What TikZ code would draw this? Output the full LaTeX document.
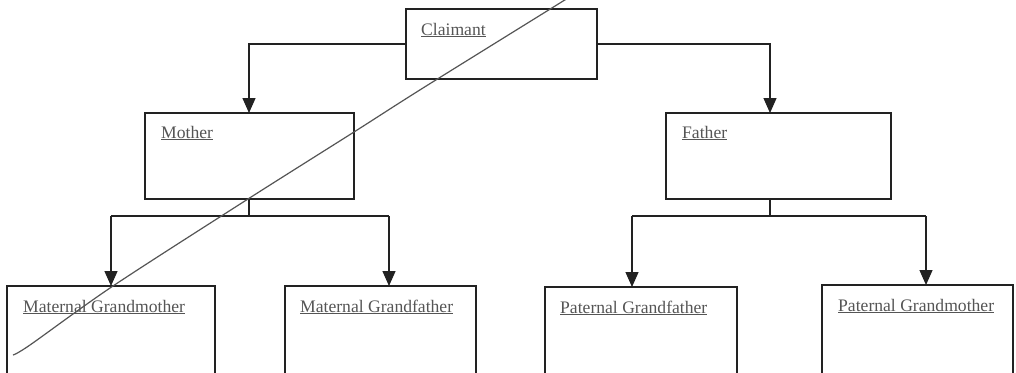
\documentclass[tikz,border=0pt]{standalone}
\usepackage{fontspec}
\setmainfont{Liberation Serif}
\usetikzlibrary{arrows.meta}
\definecolor{ink}{HTML}{222222}
\definecolor{txt}{HTML}{555555}

\begin{document}
\begin{tikzpicture}[x=1pt, y=-1pt,
  box/.style={draw=ink, line width=1.6pt, rectangle, inner sep=0pt, outer sep=0pt},
  lbl/.style={anchor=base west, inner sep=0pt, text=txt, font=\fontsize{17.6}{20}\selectfont},
  arr/.style={draw=ink, line width=1.3pt, -{Triangle[length=15pt,width=13pt]}},
  link/.style={draw=ink, line width=1.3pt}]
\useasboundingbox (0,0) rectangle (1016,372);
\clip (0,0) rectangle (1016,372);
\fill[white] (0,0) rectangle (1016,372);
% boxes
\node[box, minimum width=191pt, minimum height=70pt] (claimant) at (501.5,44) {};
\node[box, minimum width=209pt, minimum height=86pt] (mother) at (249.5,156) {};
\node[box, minimum width=225pt, minimum height=86pt] (father) at (778.5,156) {};
\node[box, minimum width=208pt, minimum height=92pt] (mgm) at (111,332) {};
\node[box, minimum width=191pt, minimum height=92pt] (mgf) at (380.5,332) {};
\node[box, minimum width=192pt, minimum height=92pt] (pgf) at (641,333) {};
\node[box, minimum width=191pt, minimum height=92pt] (pgm) at (917.5,331) {};
% labels
\node[lbl] (claimant-l) at ([shift={(15,26)}]claimant.north west) {\underline{Claimant}};
\node[lbl] (mother-l) at ([shift={(16,25)}]mother.north west) {\underline{Mother}};
\node[lbl] (father-l) at ([shift={(16,25)}]father.north west) {\underline{Father}};
\node[lbl] (mgm-l) at ([shift={(16,26)}]mgm.north west) {\underline{Maternal Grandmother}};
\node[lbl] (mgf-l) at ([shift={(15,26)}]mgf.north west) {\underline{Maternal Grandfather}};
\node[lbl] (pgf-l) at ([shift={(15,26)}]pgf.north west) {\underline{Paternal Grandfather}};
\node[lbl] (pgm-l) at ([shift={(16,26)}]pgm.north west) {\underline{Paternal Grandmother}};
% connectors
\coordinate (mj) at (249,216);
\coordinate (fj) at (770,216);
\coordinate (d1) at (111,216);
\coordinate (d2) at (389,216);
\coordinate (d3) at (632,216);
\coordinate (d4) at (926,216);
\draw[arr] (claimant.west) -| (mj |- mother.north);
\draw[arr] (claimant.east) -| (fj |- father.north);
\draw[link] (mj |- mother.south) -- (mj);
\draw[link] (fj |- father.south) -- (fj);
\draw[link] (d1) -- (d2);
\draw[link] (d3) -- (d4);
\draw[arr] (d1) -- (d1 |- mgm.north);
\draw[arr] (d2) -- (d2 |- mgf.north);
\draw[arr] (d3) -- (d3 |- pgf.north);
\draw[arr] (d4) -- (d4 |- pgm.north);
% strike line
\draw[txt, line width=1.2pt] plot[smooth] coordinates {(568,-2) (423,88) (354,132) (248,199) (113,286) (30,345) (13,355)};
\end{tikzpicture}
\end{document}
